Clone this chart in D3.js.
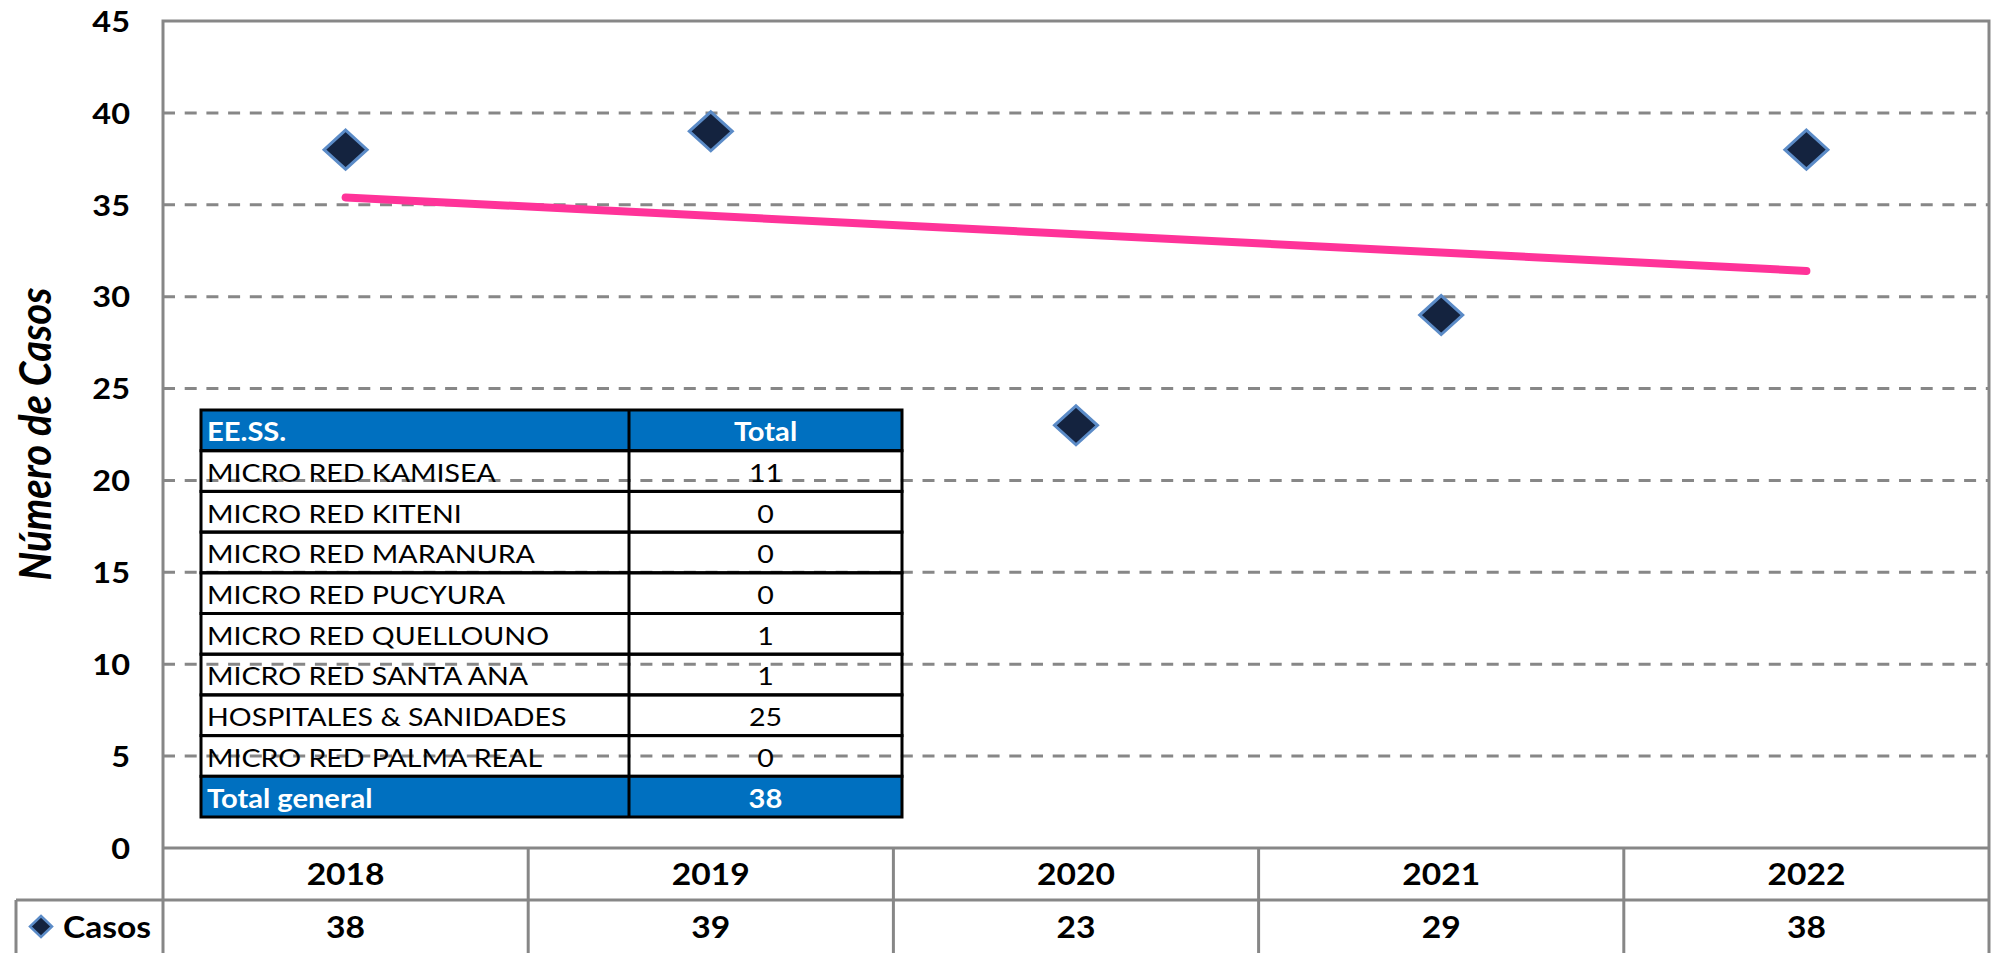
<!DOCTYPE html>
<html>
<head>
<meta charset="utf-8">
<script src="https://d3js.org/d3.v7.min.js"></script>
<style>
  body { margin: 0; background: #ffffff; overflow: hidden; }
  text { font-family: Lato, "Open Sans", sans-serif; fill: #000; }
</style>
</head>
<body>
<svg id="vis"></svg>
<script>
// data
var years = ["2018", "2019", "2020", "2021", "2022"];
var casos = [38, 39, 23, 29, 38];
var yTicks = [0, 5, 10, 15, 20, 25, 30, 35, 40, 45];
var seriesName = "Casos";
var yTitle = "Número de Casos";

// inset table
var tableHeader = ["EE.SS.", "Total"];
var tableNames = ["MICRO RED KAMISEA", "MICRO RED KITENI", "MICRO RED MARANURA", "MICRO RED PUCYURA",
                  "MICRO RED QUELLOUNO", "MICRO RED SANTA ANA", "HOSPITALES & SANIDADES", "MICRO RED PALMA REAL"];
var tableTotals = [11, 0, 0, 0, 1, 1, 25, 0];
var totalLabel = "Total general";
var totalValue = 38;

var W = 1992, H = 953;
var SX = 1.12;   // the original is a bit stretched sideways
var grey = "#878787", blue = "#0070c0";

var svg = d3.select("#vis").attr("width", W).attr("height", H);

// plot area
var pLeft = 163, pRight = 1989, pTop = 21, pBottom = 848;
var xScale = d3.scaleBand().domain(years).range([pLeft, pRight]);
var yScale = d3.scaleLinear().domain([0, 45]).range([pBottom, pTop]);
var cx = function(d) { return xScale(d) + xScale.bandwidth() / 2; };

// little helper, text stretched like the original
function txt(g, x, y, s, size, weight, anchor) {
    return g.append("text")
        .attr("transform", "translate(" + x + "," + y + ") scale(" + SX + ",1)")
        .attr("text-anchor", anchor || "start")
        .attr("dominant-baseline", "central")
        .style("font-size", size + "px")
        .style("font-weight", weight || 400)
        .text(s);
}

// dashed gridlines
svg.append("g")
    .selectAll("line")
    .data(yTicks.filter(function(t) { return t > 0 && t < 45; }))
    .enter()
    .append("line")
    .attr("x1", pLeft).attr("x2", pRight)
    .attr("y1", function(d) { return yScale(d); })
    .attr("y2", function(d) { return yScale(d); })
    .attr("stroke", grey)
    .attr("stroke-width", 3)
    .attr("stroke-dasharray", "12 9.7");

// y tick labels
var yLab = svg.append("g");
yTicks.forEach(function(t) {
    txt(yLab, 130, yScale(t), t, 29, 700, "end");
});

// y title
svg.append("text")
    .attr("transform", "translate(34,434) scale(" + SX + ",1) rotate(-90)")
    .attr("text-anchor", "middle")
    .attr("dominant-baseline", "central")
    .style("font-size", "40px")
    .style("font-weight", 700)
    .style("font-style", "italic")
    .text(yTitle);

// data table below the axis
var rowTop = pBottom, rowMid = 900, rowBot = H + 5;
var tbl = svg.append("g").attr("stroke", grey).attr("stroke-width", 3);
tbl.append("line").attr("x1", pLeft).attr("x2", pRight).attr("y1", rowTop).attr("y2", rowTop);
tbl.append("line").attr("x1", 16).attr("x2", pRight).attr("y1", rowMid).attr("y2", rowMid);
tbl.append("line").attr("x1", 16).attr("x2", 16).attr("y1", rowMid).attr("y2", rowBot);
tbl.selectAll(".sep")
    .data(years.slice(1))
    .enter()
    .append("line")
    .attr("class", "sep")
    .attr("x1", function(d) { return xScale(d); })
    .attr("x2", function(d) { return xScale(d); })
    .attr("y1", rowTop).attr("y2", rowBot);

// plot frame
svg.append("path")
    .attr("d", "M" + pLeft + "," + rowBot + "V" + pTop + "H" + pRight + "V" + rowBot)
    .attr("fill", "none")
    .attr("stroke", grey)
    .attr("stroke-width", 3);

var cats = svg.append("g");
years.forEach(function(y, i) {
    txt(cats, cx(y), (rowTop + rowMid) / 2, y, 30, 700, "middle");
    txt(cats, cx(y), (rowMid + 953) / 2, casos[i], 30, 700, "middle");
});

// diamond path
function diamond(x, y, w, h) {
    return "M" + x + "," + (y - h) + "L" + (x + w) + "," + y + "L" + x + "," + (y + h) + "L" + (x - w) + "," + y + "Z";
}

// legend key in the data table
svg.append("path")
    .attr("d", diamond(41, (rowMid + 953) / 2, 11, 10.5))
    .attr("fill", "#14233f")
    .attr("stroke", "#5b8bc7")
    .attr("stroke-width", 2.5);
txt(svg, 63, (rowMid + 953) / 2, seriesName, 30, 700, "start");

// inset table
var tx0 = 201, tx1 = 629, tx2 = 902;
var rows = [tableHeader[0]].concat(tableNames).concat([totalLabel]);
var vals = [tableHeader[1]].concat(tableTotals).concat([totalValue]);
var rowScale = d3.scaleBand().domain(d3.range(rows.length)).range([410, 817]);
var rh = rowScale.bandwidth();

var inset = svg.append("g");
inset.selectAll("rect")
    .data(rows)
    .enter()
    .append("rect")
    .attr("x", tx0)
    .attr("y", function(d, i) { return rowScale(i); })
    .attr("width", tx2 - tx0)
    .attr("height", rh)
    .attr("fill", function(d, i) { return (i == 0 || i == rows.length - 1) ? blue : "none"; })
    .attr("stroke", "#000")
    .attr("stroke-width", 3);
inset.append("line")
    .attr("x1", tx1).attr("x2", tx1)
    .attr("y1", 410).attr("y2", 817)
    .attr("stroke", "#000").attr("stroke-width", 3);

rows.forEach(function(r, i) {
    var blueRow = (i == 0 || i == rows.length - 1);
    var ym = rowScale(i) + rh / 2 + 1;
    var t1 = txt(inset, tx0 + 6, ym, r, blueRow ? 26 : 25.5, blueRow ? 700 : 400, "start");
    var t2 = txt(inset, (tx1 + tx2) / 2, ym, vals[i], blueRow ? 26 : 25.5, blueRow ? 700 : 400, "middle");
    if (blueRow) { t1.style("fill", "#fff"); t2.style("fill", "#fff"); }
});

// linear trend line
var n = casos.length;
var xs = d3.range(1, n + 1);
var mx = d3.mean(xs), my = d3.mean(casos);
var slope = d3.sum(xs, function(x, i) { return (x - mx) * (casos[i] - my); }) /
            d3.sum(xs, function(x) { return (x - mx) * (x - mx); });
var icpt = my - slope * mx;
var trend = years.map(function(y, i) { return [cx(y), yScale(icpt + slope * xs[i])]; });

svg.append("path")
    .attr("d", d3.line()([trend[0], trend[n - 1]]))
    .attr("fill", "none")
    .attr("stroke", "#ff3399")
    .attr("stroke-width", 8)
    .attr("stroke-linecap", "round");

// points
svg.append("g")
    .selectAll("path")
    .data(casos)
    .enter()
    .append("path")
    .attr("d", function(d, i) { return diamond(cx(years[i]), yScale(d), 21.5, 19.5); })
    .attr("fill", "#14233f")
    .attr("stroke", "#5b8bc7")
    .attr("stroke-width", 3);
</script>
</body>
</html>
